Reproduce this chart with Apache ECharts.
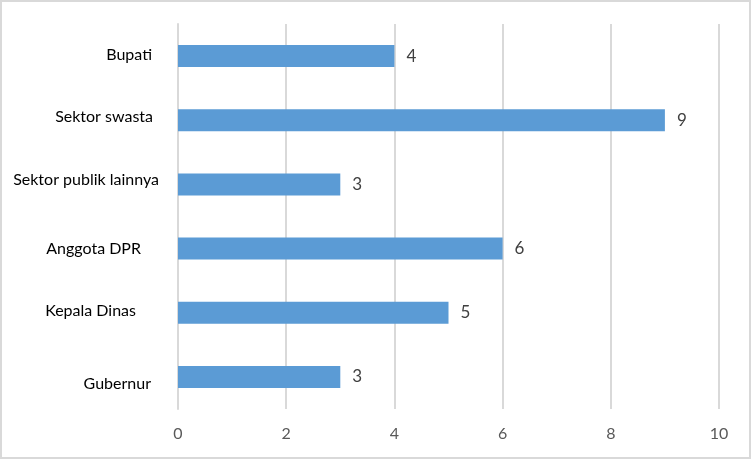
<!DOCTYPE html>
<html>
<head>
<meta charset="utf-8">
<script src="https://cdn.jsdelivr.net/npm/echarts@6/dist/echarts.min.js"></script>
<style>
html,body{margin:0;padding:0;background:#fff;}
#chart{width:752px;height:460px;}
</style>
</head>
<body>
<div id="chart"></div>
<script>
// Data (bottom to top, as drawn on the category axis)
var categories = ['Gubernur', 'Kepala Dinas', 'Anggota DPR', 'Sektor publik lainnya', 'Sektor swasta', 'Bupati'];
var values = [3, 5, 6, 3, 9, 4];
var xTicks = [0, 2, 4, 6, 8, 10];

// Label nudges (style only): [rightPad, verticalShift] per category, matching reference placement
var labelNudge = {
  'Gubernur': [9, 7],
  'Kepala Dinas': [24, -2],
  'Anggota DPR': [19, 0],
  'Sektor publik lainnya': [1, -5],
  'Sektor swasta': [7, -3],
  'Bupati': [8, -1]
};

var rich = {};
categories.forEach(function (c, i) {
  var n = labelNudge[c] || [0, 0];
  var dy = n[1];
  rich['c' + i] = {
    fontFamily: 'Lato',
    fontSize: 16,
    color: '#000000',
    padding: [dy > 0 ? 2 * dy : 0, n[0], dy < 0 ? -2 * dy : 0, 0]
  };
});

var chart = echarts.init(document.getElementById('chart'), null, { renderer: 'canvas' });
chart.setOption({
  animation: false,
  backgroundColor: '#ffffff',
  graphic: [{
    type: 'rect',
    z: -10,
    shape: { x: 1, y: 1, width: 749, height: 457 },
    style: { fill: 'none', stroke: '#d9d9d9', lineWidth: 2 }
  }],
  grid: { left: 178, right: 33, top: 24, bottom: 51, containLabel: false },
  xAxis: {
    type: 'value',
    min: xTicks[0],
    max: xTicks[xTicks.length - 1],
    interval: xTicks[1] - xTicks[0],
    axisLine: { show: false },
    axisTick: { show: false },
    splitLine: { show: true, lineStyle: { color: '#d9d9d9', width: 2 } },
    axisLabel: { color: '#595959', fontFamily: 'Lato', fontSize: 16, margin: 17 }
  },
  yAxis: {
    type: 'category',
    data: categories,
    axisLine: { show: true, lineStyle: { color: '#d9d9d9', width: 2 } },
    axisTick: { show: false },
    axisLabel: {
      margin: 18,
      formatter: function (v) {
        var i = categories.indexOf(v);
        return '{c' + i + '|' + v + '}';
      },
      rich: rich
    }
  },
  series: [{
    type: 'bar',
    data: values,
    barWidth: 22,
    itemStyle: { color: '#5b9bd5' },
    label: {
      show: true,
      position: 'right',
      distance: 12,
      color: '#404040',
      fontFamily: 'Lato',
      fontSize: 17
    }
  }]
});
</script>
</body>
</html>
